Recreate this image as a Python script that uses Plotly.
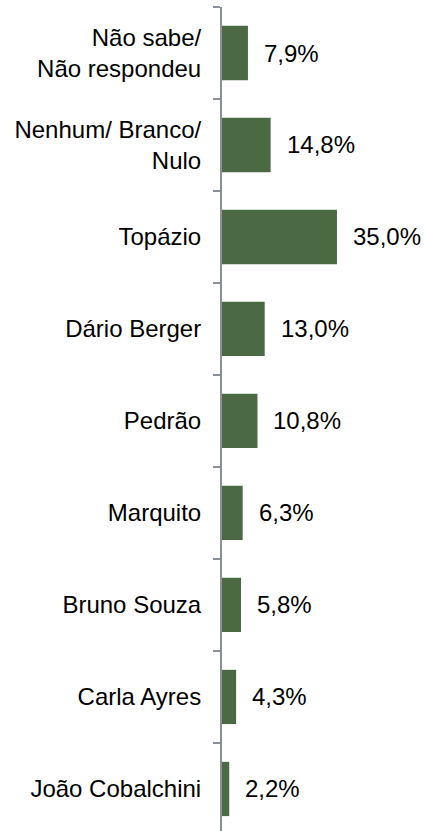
import plotly.graph_objects as go

categories = ["Não sabe/<br>Não respondeu", "Nenhum/ Branco/<br>Nulo", "Topázio",
              "Dário Berger", "Pedrão", "Marquito", "Bruno Souza", "Carla Ayres",
              "João Cobalchini"]
values = [7.9, 14.8, 35.0, 13.0, 10.8, 6.3, 5.8, 4.3, 2.2]
labels = ["7,9%", "14,8%", "35,0%", "13,0%", "10,8%", "6,3%", "5,8%", "4,3%", "2,2%"]

FONT = "Arial, 'Liberation Sans', sans-serif"

fig = go.Figure()
fig.add_trace(go.Bar(
    x=values, y=categories, orientation="h",
    marker=dict(color="#4b6a43", line=dict(width=0)),
    width=0.59, hoverinfo="skip",
))

for c, v, t in zip(categories, values, labels):
    fig.add_annotation(x=v, y=c, text=t, showarrow=False, xanchor="left",
                       yanchor="middle", xshift=14,
                       font=dict(family=FONT, size=24, color="#000000"))

fig.update_layout(
    width=424, height=831,
    margin=dict(l=222, r=0, t=7, b=0),
    paper_bgcolor="white", plot_bgcolor="white",
    showlegend=False,
    font=dict(family=FONT, size=24, color="#000000"),
    xaxis=dict(range=[0, 61.5], visible=False, showgrid=False, zeroline=False),
    yaxis=dict(
        categoryorder="array", categoryarray=categories,
        range=[8.457, -0.5],
        showline=True, linecolor="#8a9099", linewidth=2,
        ticks="outside", ticklen=7, tickwidth=2, tickcolor="#8a9099",
        tickson="boundaries", showgrid=False, zeroline=False,
        ticklabelstandoff=14,
        tickfont=dict(family=FONT, size=24, color="#000000"),
    ),
)

fig.write_html("out.html", config={"displayModeBar": False},
               post_script="document.body.style.margin='0';document.body.style.overflow='hidden';")
